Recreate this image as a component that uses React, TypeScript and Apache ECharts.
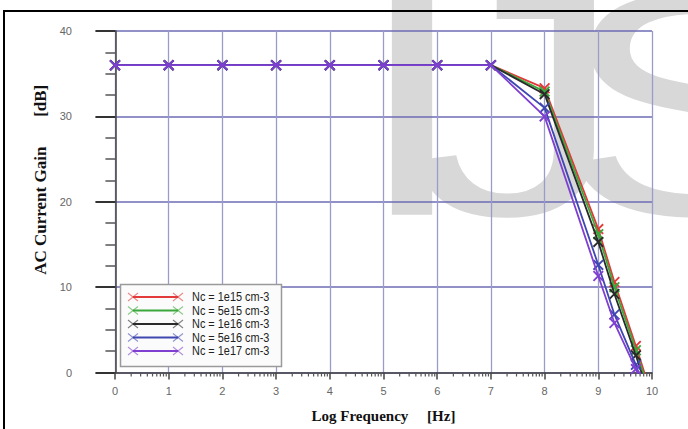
import React, { useEffect, useRef } from "react";
import * as echarts from "echarts";

// ---- data ----
const logFreq = [0, 1, 2, 3, 4, 5, 6, 7, 8, 9, 9.3, 9.7, 10];
const seriesNames = [
  "Nc = 1e15 cm-3",
  "Nc = 5e15 cm-3",
  "Nc = 1e16 cm-3",
  "Nc = 5e16 cm-3",
  "Nc = 1e17 cm-3",
];
const gain1e15 = [36, 36, 36, 36, 36, 36, 36, 36, 33.3, 16.8, 10.6, 3.1, -2.8];
const gain5e15 = [36, 36, 36, 36, 36, 36, 36, 36, 32.9, 16.2, 10.0, 2.6, -3.2];
const gain1e16 = [36, 36, 36, 36, 36, 36, 36, 36, 32.6, 15.3, 9.2, 2.0, -3.8];
const gain5e16 = [36, 36, 36, 36, 36, 36, 36, 36, 31.0, 12.6, 6.8, 0.9, -4.8];
const gain1e17 = [36, 36, 36, 36, 36, 36, 36, 36, 30.0, 11.3, 5.8, 0.4, -5.2];
const allGains = [gain1e15, gain5e15, gain1e16, gain5e16, gain1e17];
const seriesColors = ["#e23a3a", "#3aa83a", "#2a2a2a", "#3f47b0", "#7f3fd0"];
const xTickValues = [0, 1, 2, 3, 4, 5, 6, 7, 8, 9, 10];
const logMinorFactors = [2, 3, 4, 5, 6, 7, 8, 9];
const xTitle = "Log Frequency\u00a0\u00a0\u00a0\u00a0\u00a0[Hz]";
const yTitle = "AC Current Gain\u00a0\u00a0\u00a0\u00a0\u00a0\u00a0\u00a0[dB]";
const watermarkLetters = ["I", "J", "S"];

const X_SYMBOL =
  "path://M0,1.2 L1.2,0 L5,3.8 L8.8,0 L10,1.2 L6.2,5 L10,8.8 L8.8,10 L5,6.2 L1.2,10 L0,8.8 L3.8,5 Z";

const tickFont = "'Liberation Sans', Arial, sans-serif";

export default function App() {
  const ref = useRef<HTMLDivElement>(null);
  useEffect(() => {
    document.body.style.margin = "0";
    if (!ref.current) return;
    const chart = echarts.init(ref.current, undefined, { renderer: "svg" });

    const minorTickData: number[][] = [];
    for (let d = 0; d < 10; d++) {
      for (const f of logMinorFactors) minorTickData.push([d + Math.log10(f), 0]);
    }

    const lineSeries = seriesNames.map((name, i) => ({
      name,
      type: "line",
      xAxisIndex: 1,
      yAxisIndex: 1,
      data: logFreq.map((x, j) => [x, allGains[i][j]]),
      symbol: X_SYMBOL,
      symbolSize: 11,
      clip: true,
      z: 3 + i,
      lineStyle: { color: seriesColors[i], width: 1.8 },
      itemStyle: { color: seriesColors[i] },
    }));

    // legend drawn as graphic
    const legendEls: any[] = [
      {
        type: "rect",
        shape: { x: 120.5, y: 284.5, width: 161, height: 82 },
        style: { fill: "#fbfbfb", stroke: "#9a9a9a", lineWidth: 1.5 },
        z: 20,
      },
    ];
    seriesNames.forEach((name, i) => {
      const y = 297 + i * 13.5;
      const c = seriesColors[i];
      legendEls.push({
        type: "line",
        shape: { x1: 133, y1: y, x2: 178, y2: y },
        style: { stroke: c, lineWidth: 1.8 },
        z: 21,
      });
      [133, 178].forEach((cx) => {
        legendEls.push({
          type: "polyline",
          shape: { points: [[cx - 5, y - 4], [cx + 5, y + 4]] },
          style: { stroke: c, lineWidth: 1.1, opacity: 0.6 },
          z: 21,
        });
        legendEls.push({
          type: "polyline",
          shape: { points: [[cx - 5, y + 4], [cx + 5, y - 4]] },
          style: { stroke: c, lineWidth: 1.1, opacity: 0.6 },
          z: 21,
        });
      });
      legendEls.push({
        type: "text",
        x: 192,
        y,
        scaleX: 0.84,
        style: {
          text: name,
          fill: "#222",
          font: `13px ${tickFont}`,
          verticalAlign: "middle",
        },
        z: 21,
      });
    });

    const watermarkX = [352, 410, 557];
    const watermarkEls = watermarkLetters.map((t, i) => ({
      type: "text",
      x: watermarkX[i],
      y: 104,
      scaleX: 1.35,
      z: -10,
      silent: true,
      style: {
        text: t,
        font: "320px 'Liberation Sans', Arial, sans-serif",
        fill: "#d8d8d8",
        verticalAlign: "middle",
        align: "left",
      },
    }));

    chart.setOption({
      animation: false,
      backgroundColor: "#ffffff",
      grid: [
        { left: 102, right: 36, top: 31, bottom: 56.5, containLabel: false },
        { left: 115, right: 36, top: 31, bottom: 56.5, containLabel: false },
      ],
      xAxis: [
        {
          gridIndex: 0,
          type: "value",
          min: -0.25,
          max: 10,
          axisLine: { show: true, lineStyle: { color: "#444", width: 1.5 } },
          axisTick: { show: false },
          axisLabel: { show: false },
          splitLine: { show: false },
        },
        {
          gridIndex: 1,
          type: "value",
          min: 0,
          max: 10,
          interval: 1,
          name: xTitle,
          nameLocation: "middle",
          nameGap: 36,
          nameTextStyle: {
            fontFamily: "'Liberation Serif', 'Times New Roman', serif",
            fontWeight: "bold",
            fontSize: 15,
            color: "#111",
          },
          axisLine: { show: false },
          axisTick: {
            show: true,
            inside: false,
            length: 7,
            lineStyle: { color: "#444", width: 1.5 },
          },
          axisLabel: {
            show: true,
            margin: 13,
            color: "#666",
            fontSize: 11,
            fontFamily: tickFont,
            formatter: (v: number) => (xTickValues.includes(v) ? String(v) : ""),
          },
          splitLine: { show: true, lineStyle: { color: "#9b9bc9", width: 1.3 } },
        },
      ],
      yAxis: [
        {
          gridIndex: 0,
          type: "value",
          min: 0,
          max: 40,
          interval: 10,
          name: yTitle,
          nameLocation: "middle",
          nameRotate: 90,
          nameGap: 51,
          nameTextStyle: {
            fontFamily: "'Liberation Serif', 'Times New Roman', serif",
            fontWeight: "bold",
            fontSize: 17,
            color: "#111",
            padding: [0, 0, 0, 44],
          },
          axisLine: { show: true, lineStyle: { color: "#444", width: 1.5 } },
          axisTick: {
            show: true,
            inside: false,
            length: 20,
            lineStyle: { color: "#333", width: 2 },
          },
          minorTick: {
            show: true,
            splitNumber: 4,
            length: 10,
            lineStyle: { color: "#555", width: 1.5 },
          },
          axisLabel: {
            show: true,
            margin: 30,
            color: "#666",
            fontSize: 11,
            fontFamily: tickFont,
          },
          splitLine: { show: true, lineStyle: { color: "#6c6cb6", width: 1.6 } },
        },
        {
          gridIndex: 1,
          type: "value",
          min: 0,
          max: 40,
          show: false,
        },
      ],
      graphic: [
        ...watermarkEls,
        {
          type: "rect",
          z: 30,
          shape: { x: 4, y: 11, width: 720, height: 440 },
          style: { fill: "none", stroke: "#000", lineWidth: 2 },
          silent: true,
        },
        ...legendEls,
      ],
      series: [
        ...lineSeries,
        {
          type: "custom",
          xAxisIndex: 1,
          yAxisIndex: 1,
          silent: true,
          clip: false,
          data: minorTickData,
          renderItem: (_params: any, api: any) => {
            const p = api.coord([api.value(0), 0]);
            return {
              type: "line",
              shape: { x1: p[0], y1: p[1], x2: p[0], y2: p[1] + 4 },
              style: { stroke: "#555", lineWidth: 1.2 },
            };
          },
        },
      ],
    });
    return () => chart.dispose();
  }, []);
  return <div ref={ref} style={{ width: 688, height: 429 }} />;
}
